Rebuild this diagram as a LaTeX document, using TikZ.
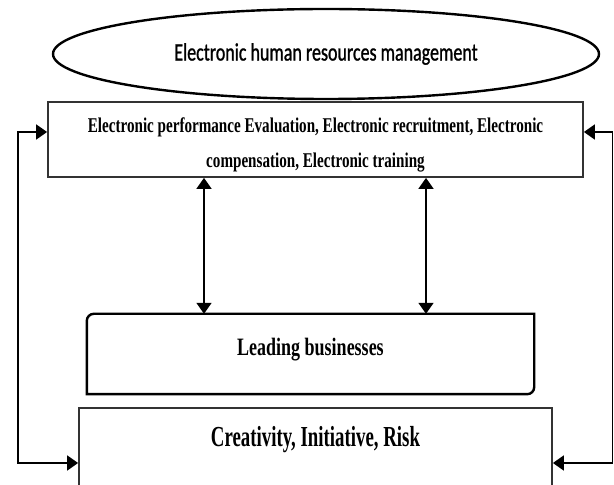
\documentclass[tikz,border=0pt]{standalone}
\usepackage{fontspec}
\setmainfont{Liberation Serif}
\newfontfamily\ovalfont[FakeStretch=0.72,FakeBold=1]{Carlito}
\newfontfamily\narrowfont[FakeStretch=0.72]{Liberation Serif}
\newfontfamily\tallfont[FakeStretch=0.65]{Liberation Serif}
\usetikzlibrary{shapes.geometric,arrows.meta,calc}

\tikzset{
  boxline/.style={draw=black!80,line width=1.8pt},
  link/.style={line width=1.8pt,{Triangle[length=11pt,width=15pt]}-{Triangle[length=11pt,width=15pt]}}
}

\begin{document}
\begin{tikzpicture}[x=1pt,y=1pt]
\useasboundingbox (0,0) rectangle (614,485);
\clip (0,0) rectangle (614,485);
% oval on top
\node[ellipse,draw,line width=2.4pt,minimum width=546pt,minimum height=90pt,inner sep=0pt,
      font=\ovalfont\fontsize{25}{27}\selectfont] (ehrm) at (326,431)
      {Electronic human resources management};
% practices
\node[boxline,minimum width=535pt,minimum height=75pt,inner sep=0pt,align=center,
      text height=61pt,text depth=4pt,
      font=\narrowfont\bfseries\fontsize{21}{35}\selectfont] (eval) at (315.5,345.5)
      {Electronic performance Evaluation, Electronic recruitment, Electronic\\compensation, Electronic training};
% leading businesses, two corners rounded
\node[minimum width=447pt,minimum height=80pt,inner sep=0pt,
      text height=17pt,text depth=13pt,
      font=\narrowfont\bfseries\fontsize{25}{28}\selectfont] (lead) at (310.5,131)
      {Leading businesses};
\draw[line width=2.4pt] (lead.north east) -- ([xshift=7pt]lead.north west)
      arc[start angle=90,end angle=180,radius=7pt] -- (lead.south west)
      -- ([xshift=-7pt]lead.south east) arc[start angle=270,end angle=360,radius=7pt] -- cycle;
% outcomes
\node[boxline,minimum width=473pt,minimum height=97pt,inner sep=0pt,
      text height=20pt,text depth=39pt,
      font=\tallfont\bfseries\fontsize{29}{31}\selectfont] (risk) at (315.5,28.5)
      {Creativity, Initiative, Risk};
% connectors
\coordinate (p1) at (204,0);
\coordinate (p2) at (426,0);
\coordinate (lft) at (18,22);
\coordinate (rgt) at (612.5,22);
\draw[link] (eval.south -| p1) -- (lead.north -| p1);
\draw[link] (eval.south -| p2) -- (lead.north -| p2);
\draw[link] ([yshift=7.5pt]eval.west) -| (lft) -- ([yshift=-6.5pt]risk.west);
\draw[link] ([yshift=7.5pt]eval.east) -| (rgt) -- ([yshift=-6.5pt]risk.east);
\end{tikzpicture}
\end{document}
